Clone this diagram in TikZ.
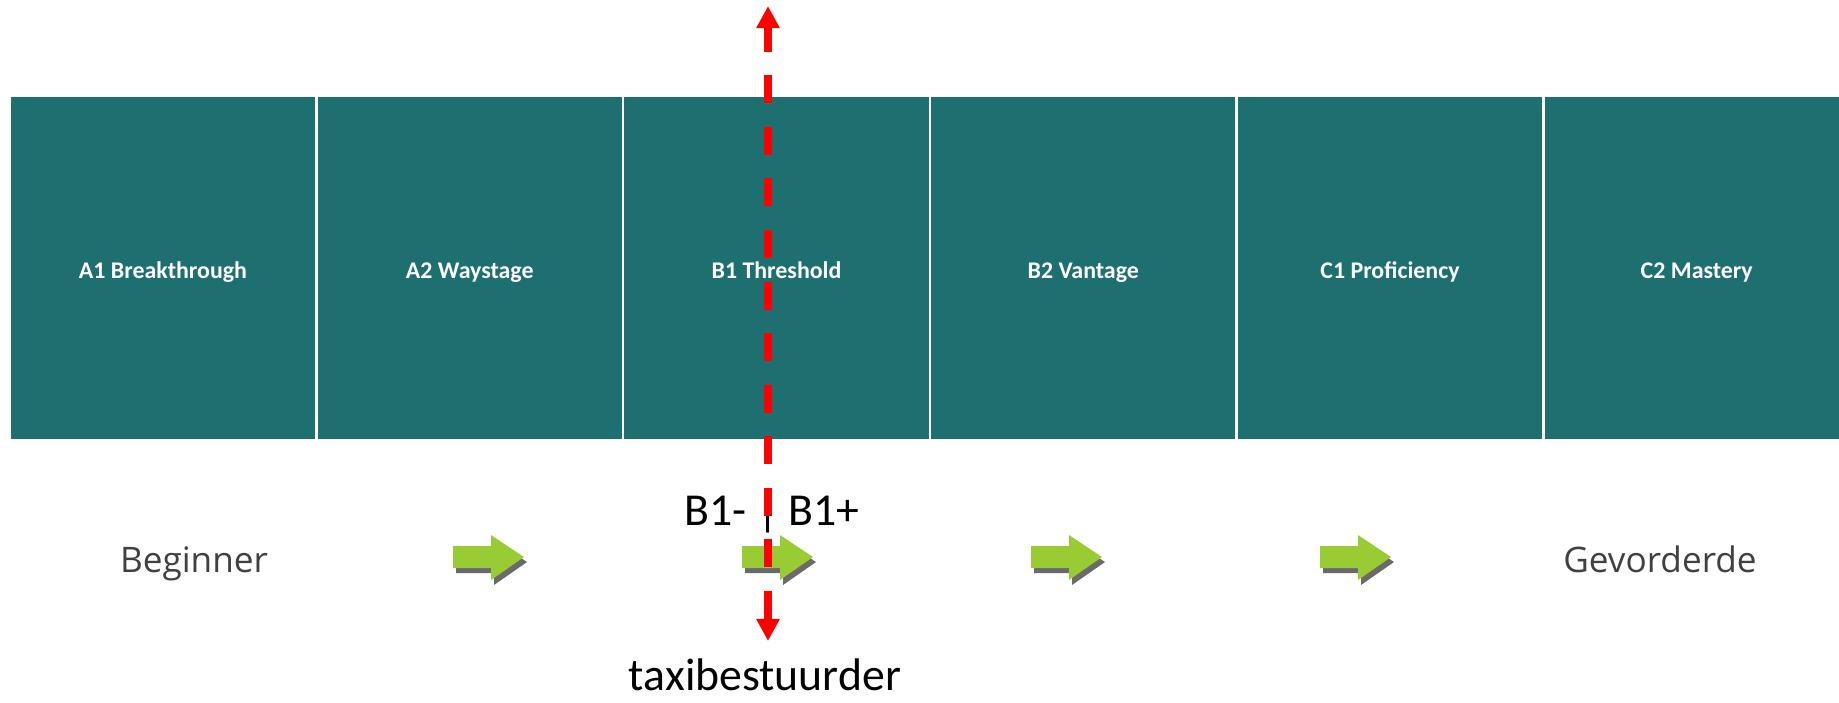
\documentclass[tikz,border=0pt]{standalone}
\usepackage{fontspec}
\setmainfont{Carlito}
\newfontfamily\scalefont{Open Sans}
\usetikzlibrary{arrows.meta}
\definecolor{levelteal}{RGB}{30,112,112}
\definecolor{arrowgreen}{RGB}{153,204,51}
\definecolor{shadowgray}{RGB}{80,80,80}
\definecolor{scalegray}{RGB}{64,64,64}
\definecolor{cutred}{RGB}{255,0,0}

\begin{document}
\begin{tikzpicture}[
    x=0.01cm, y=-0.01cm,
    level/.style={rectangle, fill=levelteal, minimum width=3.04cm, minimum height=3.42cm, inner sep=0pt, text height=5.7pt, text depth=0pt, text=white, font=\fontsize{6.8}{8}\selectfont\bfseries},
    endlabel/.style={anchor=base, inner sep=0pt, text=scalegray, font=\scalefont\fontsize{10}{12}\selectfont},
    cutlabel/.style={anchor=base, inner sep=0pt, text=black, font=\fontsize{13}{15}\selectfont},
    cutline/.style={{Triangle[length=6.3pt, width=6.3pt]}-{Triangle[length=6.3pt, width=6.3pt]}, line width=2pt, color=cutred, dash pattern=on 7.97pt off 6.69pt, dash phase=0.85pt},
]

\useasboundingbox (0,0) rectangle (1839,702);
\clip (0,0) rectangle (1839,702);

% CEFR levels
\node[level] (a1) at (163,268) {A1 Breakthrough};
\node[level] (a2) at (469.75,268) {A2 Waystage};
\node[level] (b1) at (776.5,268) {B1 Threshold};
\node[level] (b2) at (1083.25,268) {B2 Vantage};
\node[level] (c1) at (1390,268) {C1 Proficiency};
\node[level] (c2) at (1696.75,268) {C2 Mastery};

% Scale ends
\node[endlabel] (beginner) at (194,572) {Beginner};
\node[endlabel] (advanced) at (1660,572) {Gevorderde};

% Green step arrows
\foreach \ax in {453,742,1031,1320}{
  \begin{scope}[shift={(\ax,557)}]
    \fill[shadowgray, opacity=0.85, shift={(3,5)}] (0,-11) -- (38,-11) -- (38,-22) -- (71,0) -- (38,23) -- (38,11) -- (0,11) -- cycle;
    \fill[arrowgreen] (0,-11) -- (38,-11) -- (38,-22) -- (71,0) -- (38,23) -- (38,11) -- (0,11) -- cycle;
  \end{scope}
}

% Cut between B1- and B1+
\node[cutlabel] (split) at (772,525) {B1- | B1+};
\node[cutlabel] (taxi) at (765,690) {taxibestuurder};

\coordinate (cuttop) at (768,6);
\coordinate (cutbot) at (768,641);
\draw[cutline] (cuttop) -- (cutbot);

\end{tikzpicture}
\end{document}
